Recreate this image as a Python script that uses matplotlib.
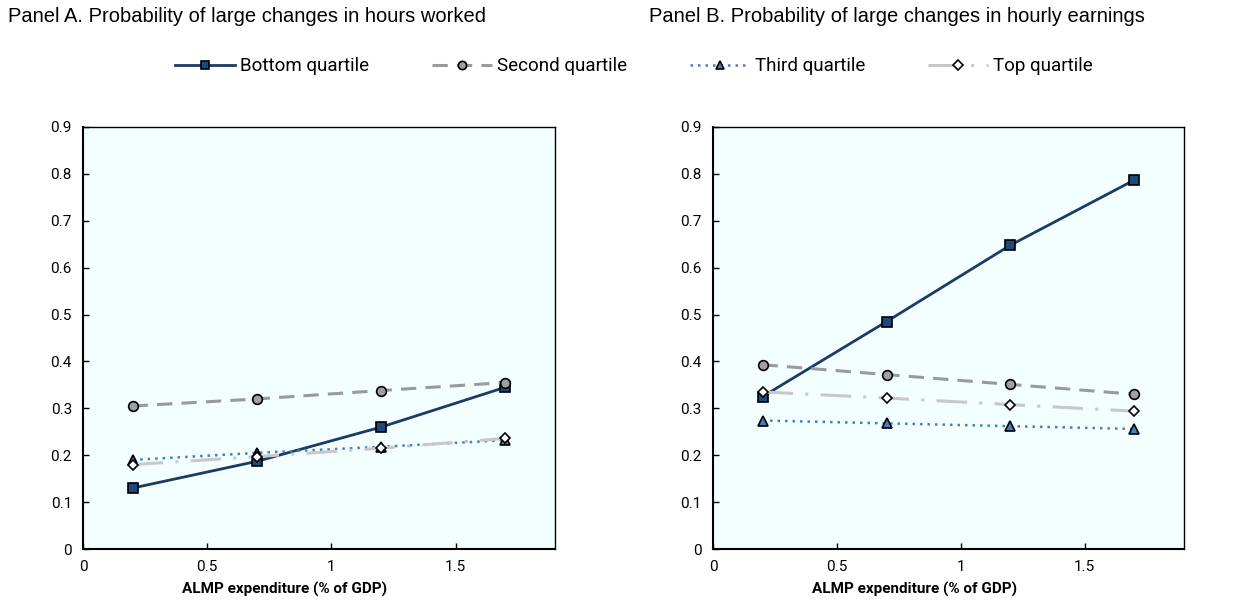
import matplotlib
matplotlib.use("Agg")
import matplotlib.pyplot as plt
from matplotlib import font_manager

# ALMP expenditure (% of GDP)
x_vals = [0.2, 0.7, 1.2, 1.7]

# Panel A: hours worked
hours_bottom = [0.130, 0.187, 0.260, 0.345]
hours_second = [0.305, 0.320, 0.338, 0.355]
hours_third = [0.190, 0.205, 0.218, 0.232]
hours_top = [0.180, 0.197, 0.215, 0.236]

# Panel B: hourly earnings
earn_bottom = [0.325, 0.485, 0.648, 0.787]
earn_second = [0.393, 0.372, 0.351, 0.330]
earn_third = [0.274, 0.268, 0.262, 0.256]
earn_top = [0.335, 0.322, 0.308, 0.294]

series_names = ["Bottom quartile", "Second quartile", "Third quartile", "Top quartile"]
panel_titles = ["Panel A. Probability of large changes in hours worked",
                "Panel B. Probability of large changes in hourly earnings"]
x_label = "ALMP expenditure (% of GDP)"

installed = {f.name for f in font_manager.fontManager.ttflist}
narrow = "Liberation Sans Narrow" if "Liberation Sans Narrow" in installed else "Roboto"
plt.rcParams["font.family"] = ["Liberation Sans", "DejaVu Sans"]

styles = [
    dict(color="#1b3a66", ls="-", lw=2.0, marker="s", mfc="#1f497d", mec="black", ms=7),
    dict(color="#9a9a9a", ls=(0, (5, 3)), lw=2.2, marker="o", mfc="#a0a0a0", mec="black", ms=7),
    dict(color="#4a7ebb", ls=(0, (1, 2)), lw=1.8, marker="^", mfc="#4a7ebb", mec="black", ms=7),
    dict(color="#c8c8c8", ls=(0, (10, 4, 1, 4)), lw=2.2, marker="D", mfc="white", mec="black", ms=5.5),
]

fig = plt.figure(figsize=(12.35, 6.01), dpi=100)
ax_a = fig.add_axes([0.0672, 0.0865, 0.3822, 0.7022])
ax_b = fig.add_axes([0.5773, 0.0865, 0.3814, 0.7022])

panels = [
    (ax_a, [hours_bottom, hours_second, hours_third, hours_top]),
    (ax_b, [earn_bottom, earn_second, earn_third, earn_top]),
]

handles = []
for ax, data in panels:
    ax.set_facecolor("#f3feff")
    lines = []
    for vals, st, name in zip(data, styles, series_names):
        ln, = ax.plot(x_vals, vals, color=st["color"], linestyle=st["ls"], linewidth=st["lw"],
                      marker=st["marker"], markerfacecolor=st["mfc"], markeredgecolor=st["mec"],
                      markeredgewidth=1.2, markersize=st["ms"], label=name, clip_on=False)
        lines.append(ln)
    handles = lines
    ax.set_xlim(0, 1.9)
    ax.set_ylim(0, 0.9)
    ax.set_xticks([0, 0.5, 1, 1.5])
    ax.set_xticklabels(["0", "0.5", "1", "1.5"])
    ax.set_yticks([i / 10 for i in range(10)])
    ax.set_yticklabels(["0"] + [f"{i / 10:.1f}" for i in range(1, 10)])
    ax.tick_params(direction="in", length=4, width=1, labelsize=11, pad=8)
    for lab in ax.get_xticklabels() + ax.get_yticklabels():
        lab.set_family(narrow)
    for sp in ax.spines.values():
        sp.set_linewidth(1.0)
    ax.spines["left"].set_linewidth(1.5)
    ax.spines["bottom"].set_linewidth(1.5)
    ax.set_xlabel(x_label, fontsize=11, fontweight="bold", family=narrow)
    ax.xaxis.set_label_coords(0.428, -0.078)

fig.text(0.0065, 0.972, panel_titles[0], fontsize=14.5, ha="left", va="center")
fig.text(0.5255, 0.972, panel_titles[1], fontsize=14.5, ha="left", va="center")

leg = fig.legend(handles, series_names, loc="center", bbox_to_anchor=(0.513, 0.89), ncol=4,
                 frameon=False, handlelength=3.2, columnspacing=3.35, handletextpad=0.27,
                 markerscale=0.85, prop={"family": narrow, "size": 13.5})

fig.savefig("out.png", dpi=100)
